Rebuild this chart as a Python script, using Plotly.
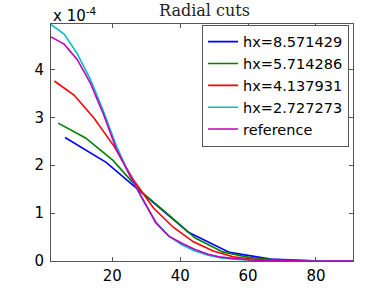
import plotly.graph_objects as go

# radial positions
x_h857 = [6.06, 18.18, 30.30, 42.43, 54.55, 66.67, 78.79, 90.91]
y_h857 = [2.58, 2.06, 1.33, 0.60, 0.18, 0.04, 0.004, 0.0]

x_h571 = [4.04, 12.12, 20.20, 28.28, 36.36, 44.44, 52.53, 60.61, 68.69, 76.77, 84.85]
y_h571 = [2.88, 2.57, 2.10, 1.46, 0.98, 0.48, 0.19, 0.07, 0.02, 0.005, 0.001]

x_h414 = [2.93, 8.78, 14.63, 20.48, 26.34, 32.19, 38.04, 43.89, 49.74, 55.60, 61.45, 67.30, 73.15, 79.01, 84.86, 90.71]
y_h414 = [3.76, 3.46, 2.98, 2.40, 1.68, 1.10, 0.70, 0.40, 0.21, 0.09, 0.035, 0.012, 0.004, 0.001, 0.0, 0.0]

x_h273 = [1.93, 5.79, 9.64, 13.50, 17.36, 21.21, 25.07, 28.93, 32.79, 36.64, 40.50, 44.36, 48.21,
          52.07, 55.93, 59.79, 63.64, 67.50, 71.36, 75.21, 79.07, 82.93, 86.79, 90.64]
y_h273 = [4.94, 4.74, 4.33, 3.80, 3.13, 2.40, 1.80, 1.28, 0.82, 0.52, 0.34, 0.21, 0.12,
          0.065, 0.035, 0.018, 0.008, 0.004, 0.002, 0.001, 0.0, 0.0, 0.0, 0.0]

x_ref = x_h273
y_ref = [4.68, 4.53, 4.21, 3.72, 3.07, 2.33, 1.80, 1.30, 0.80, 0.52, 0.37, 0.24, 0.14,
         0.08, 0.045, 0.025, 0.013, 0.006, 0.003, 0.001, 0.0005, 0.0, 0.0, 0.0]

names = ["hx=8.571429", "hx=5.714286", "hx=4.137931", "hx=2.727273", "reference"]
colors = ["#0000FF", "#008000", "#FF0000", "#00BFBF", "#BF00BF"]
xs = [x_h857, x_h571, x_h414, x_h273, x_ref]
ys = [y_h857, y_h571, y_h414, y_h273, y_ref]

xticks = [20, 40, 60, 80]
yticks = [0, 1, 2, 3, 4]

W, H = 390, 294

fig = go.Figure()
for n, c, xv, yv in zip(names, colors, xs, ys):
    fig.add_trace(go.Scatter(x=xv, y=yv, mode="lines", name=n,
                             line=dict(color=c, width=1.6)))

axis_common = dict(showgrid=False, zeroline=False, showline=True, linecolor="#555555",
                   linewidth=1, mirror="ticks", ticks="inside", ticklen=4,
                   tickcolor="#555555", automargin=False,
                   tickfont=dict(family="DejaVu Sans", size=15, color="black"))

fig.update_xaxes(range=[1.93, 90.91], tickvals=xticks, ticktext=[str(t) for t in xticks],
                 ticklabelstandoff=1, **axis_common)
fig.update_yaxes(range=[0, 4.95], tickvals=yticks, ticktext=[str(t) for t in yticks],
                 ticklabelstandoff=3, **axis_common)

fig.update_layout(
    width=W, height=H,
    margin=dict(l=51, r=37, t=24, b=33, autoexpand=False),
    paper_bgcolor="white", plot_bgcolor="white",
    showlegend=True,
    title=dict(text="Radial cuts", x=204.5 / W, xanchor="center",
               y=1 - 10 / H, yanchor="middle", automargin=False,
               font=dict(family="DejaVu Serif", size=16, color="#222222")),
    legend=dict(x=0.987, xanchor="right", y=0.997, yanchor="top",
                bgcolor="white", bordercolor="#555555", borderwidth=1,
                font=dict(family="DejaVu Sans", size=14.5, color="black"),
                tracegroupgap=0, itemwidth=30),
    annotations=[dict(text="x 10<sup>-4</sup>", xref="paper", yref="paper", x=0, y=1.0,
                      xanchor="left", yanchor="bottom", showarrow=False,
                      font=dict(family="DejaVu Sans", size=15, color="black"), yshift=-3)],
)

fig.write_html("out.html", config={"displayModeBar": False},
               post_script="document.body.style.margin='0';document.body.style.padding='0';")
